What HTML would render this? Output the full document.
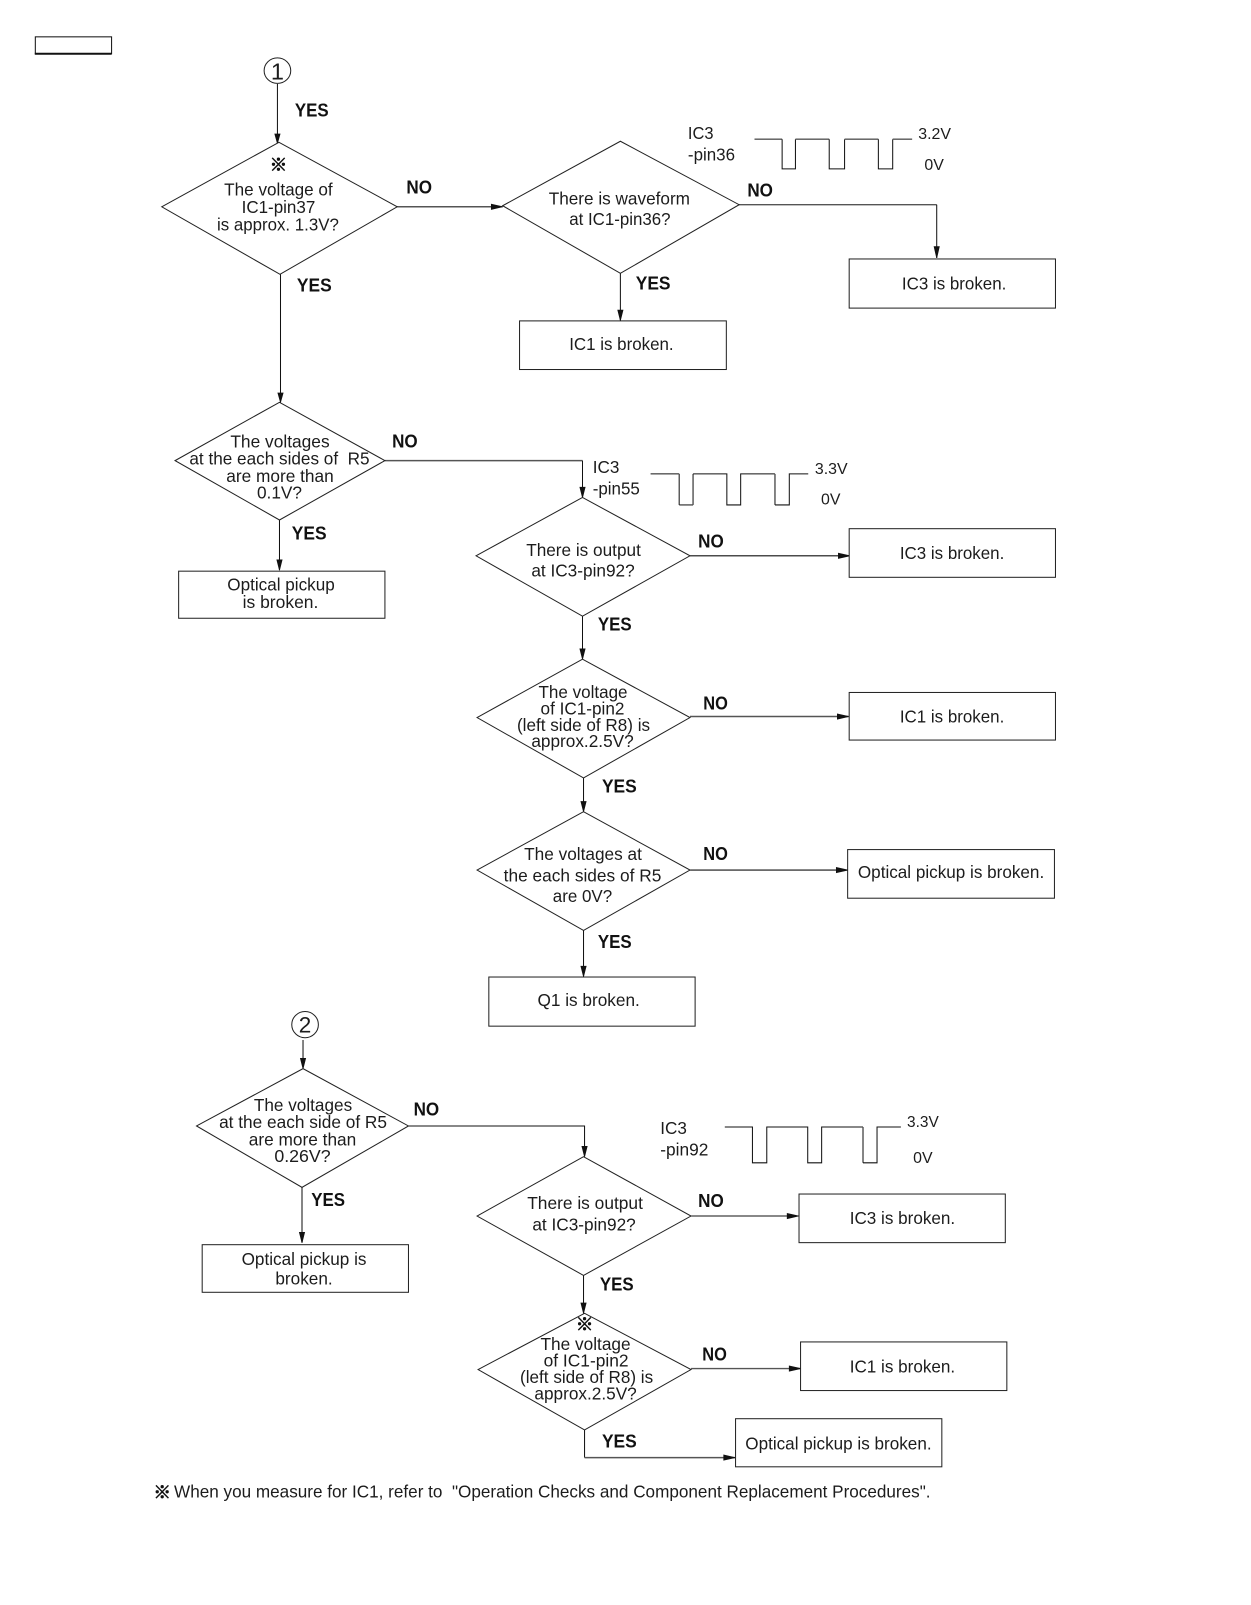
<!DOCTYPE html>
<html><head><meta charset="utf-8"><style>
html,body{margin:0;padding:0;background:#fff}
svg{display:block;position:absolute;left:0;top:0}
text{font-family:"Liberation Sans","Noto Sans CJK JP",sans-serif;font-size:17.4px;fill:#1c1c1c;white-space:pre}
text.b{font-weight:bold;font-size:18px;fill:#111}
text.s{font-size:15.6px}
text.k{font-size:17px;fill:#111;stroke:#111;stroke-width:.7px}
.l{fill:none;stroke:#111;stroke-width:1}
.g{fill:none;stroke:#555;stroke-width:1.4}
.d{fill:#fff;stroke:#222;stroke-width:1}
.r{fill:#fff;stroke:#222;stroke-width:1}
.a{fill:#111;stroke:#111;stroke-width:.8}
</style></head><body>
<svg xmlns="http://www.w3.org/2000/svg" width="1251" height="1605" viewBox="0 0 1222 1568" preserveAspectRatio="none">
<rect x="0" y="0" width="1222" height="1568" fill="#fff"/>
<rect x="34.5" y="36" width="74.5" height="16.5" fill="#fff" stroke="#111" stroke-width="1"/><path d="M34 52.5H109" stroke="#111" stroke-width="2"/>

<!-- connectors -->
<path class="l" d="M271 82V140"/><path class="a" d="M268.500 131L273.500 131L271 140Z"/>
<path class="l" d="M274 268V393"/><path class="a" d="M271.500 384L276.500 384L274 393Z"/>
<path class="g" d="M388 202H491"/><path class="a" d="M480 199.500L480 204.500L491 202Z"/>
<path class="g" d="M722 200H915"/><path class="l" d="M915 200V252"/><path class="a" d="M912.500 241L917.500 241L915 252Z"/>
<path class="l" d="M606 267V313"/><path class="a" d="M603.500 303L608.500 303L606 313Z"/>
<path class="g" d="M376 450H569"/><path class="l" d="M569 450V486"/><path class="a" d="M566.500 476L571.500 476L569 486Z"/>
<path class="l" d="M273 508V557"/><path class="a" d="M270.500 547L275.500 547L273 557Z"/>
<path class="l" d="M674 543H830"/><path class="a" d="M819 540.500L819 545.500L830 543Z"/>
<path class="l" d="M569 602V644"/><path class="a" d="M566.500 634L571.500 634L569 644Z"/>
<path class="g" d="M674 700H829"/><path class="a" d="M818 697.500L818 702.500L829 700Z"/>
<path class="l" d="M570 760V793"/><path class="a" d="M567.500 783L572.500 783L570 793Z"/>
<path class="l" d="M674 850H828"/><path class="a" d="M817 847.500L817 852.500L828 850Z"/>
<path class="l" d="M570 909V954"/><path class="a" d="M567.500 944L572.500 944L570 954Z"/>
<path class="l" d="M296 1016V1044"/><path class="a" d="M293.500 1034L298.500 1034L296 1044Z"/>
<path class="l" d="M399 1100H571V1130"/><path class="a" d="M568.500 1120L573.500 1120L571 1130Z"/>
<path class="g" d="M295 1160V1214"/><path class="a" d="M292.500 1204L297.500 1204L295 1214Z"/>
<path class="l" d="M675 1188H780"/><path class="a" d="M769 1185.500L769 1190.500L780 1188Z"/>
<path class="l" d="M570 1246V1283"/><path class="a" d="M567.500 1273L572.500 1273L570 1283Z"/>
<path class="g" d="M675 1337H782"/><path class="a" d="M771 1334.500L771 1339.500L782 1337Z"/>
<path class="l" d="M571 1397V1424"/><path class="g" d="M571 1424H718"/><path class="a" d="M707 1421.500L707 1426.500L718 1424Z"/>

<!-- waveforms -->
<path class="g" d="M737 136H764"/><path class="l" d="M764 136V165H777V136"/><path class="g" d="M777 136H810"/><path class="l" d="M810 136V165H825V136"/><path class="g" d="M825 136H858"/><path class="l" d="M858 136V165H872V136"/><path class="g" d="M872 136H891"/>
<path class="l" d="M635.500 463H663.500"/><path class="g" d="M663.500 463V493.300"/><path class="l" d="M663.500 493.300H677"/><path class="g" d="M677 493.300V463"/><path class="l" d="M677 463H710V493.300H723.500V463H757"/><path class="g" d="M757 463V493.300"/><path class="l" d="M757 493.300H771V463H789.500"/>
<path class="l" d="M708 1101H735V1136H749V1101H789V1136H802.600V1101H843"/><path class="g" d="M843 1101V1136"/><path class="l" d="M843 1136H856.700V1101H880"/>

<!-- circles -->
<ellipse cx="271" cy="69" rx="13" ry="12.500" fill="#fff" stroke="#222" stroke-width="1"/>
<ellipse cx="298" cy="1001" rx="13" ry="12.800" fill="#fff" stroke="#222" stroke-width="1"/>

<!-- diamonds -->
<polygon class="d" points="158,202 272.500,139 388,202 273.500,268"/>
<polygon class="d" points="491,201 606,138 722,200 606,267"/>
<polygon class="d" points="171,450 273,393 376,450 273,508"/>
<polygon class="d" points="465,543 569,486 674,543 569,602"/>
<polygon class="d" points="466,701 569,644 674,701 570,760"/>
<polygon class="d" points="466,850 570,793 674,850 570,909"/>
<polygon class="d" points="192,1100 296,1044 399,1100 295,1160"/>
<polygon class="d" points="466,1188 570,1130 675,1188 570,1246"/>
<polygon class="d" points="467,1338 571,1283 675,1338 571,1397"/>

<!-- boxes -->
<rect class="r" x="507.500" y="313.500" width="202" height="47.500"/>
<rect class="r" x="829.500" y="253" width="201.500" height="48"/>
<rect class="r" x="174.500" y="558" width="201.500" height="46"/>
<rect class="r" x="829.500" y="516.500" width="201.500" height="47.500"/>
<rect class="r" x="829.500" y="676.500" width="201.500" height="46.500"/>
<rect class="r" x="828" y="830" width="202" height="47.500"/>
<rect class="r" x="477.500" y="954.500" width="201.500" height="48"/>
<rect class="r" x="197.500" y="1216" width="201.500" height="46.500"/>
<rect class="r" x="780.500" y="1166.500" width="201.500" height="47.500"/>
<rect class="r" x="782" y="1311" width="201.500" height="47.500"/>
<rect class="r" x="718.500" y="1386" width="201.500" height="47"/>

<!-- labels -->
<text x="271" y="77.500" text-anchor="middle" style="font-size:23px">1</text>
<text x="298" y="1008.500" text-anchor="middle" style="font-size:22px">2</text>
<text class="b" x="288" y="114" textLength="33" lengthAdjust="spacingAndGlyphs">YES</text>
<text class="k" x="272" y="167" text-anchor="middle">※</text>
<text x="219" y="191" textLength="106" lengthAdjust="spacingAndGlyphs">The voltage of</text>
<text x="236" y="208" textLength="72" lengthAdjust="spacingAndGlyphs">IC1-pin37</text>
<text x="212" y="225" textLength="119" lengthAdjust="spacingAndGlyphs">is approx. 1.3V?</text>
<text class="b" x="397" y="189" textLength="25" lengthAdjust="spacingAndGlyphs">NO</text>
<text class="b" x="290" y="285" textLength="34" lengthAdjust="spacingAndGlyphs">YES</text>
<text x="536" y="200" textLength="138" lengthAdjust="spacingAndGlyphs">There is waveform</text>
<text x="556" y="220" textLength="99" lengthAdjust="spacingAndGlyphs">at IC1-pin36?</text>
<text class="b" x="730" y="192" textLength="25" lengthAdjust="spacingAndGlyphs">NO</text>
<text class="b" x="621" y="283" textLength="34" lengthAdjust="spacingAndGlyphs">YES</text>
<text x="672" y="136" textLength="25" lengthAdjust="spacingAndGlyphs">IC3</text>
<text x="672" y="157" textLength="46" lengthAdjust="spacingAndGlyphs">-pin36</text>
<text class="s" x="897" y="136" textLength="32" lengthAdjust="spacingAndGlyphs">3.2V</text>
<text class="s" x="903" y="166" textLength="19" lengthAdjust="spacingAndGlyphs">0V</text>
<text x="881" y="283" textLength="102" lengthAdjust="spacingAndGlyphs">IC3 is broken.</text>
<text x="556" y="342" textLength="102" lengthAdjust="spacingAndGlyphs">IC1 is broken.</text>

<text x="225" y="437" textLength="97" lengthAdjust="spacingAndGlyphs">The voltages</text>
<text x="185" y="454" textLength="176" lengthAdjust="spacingAndGlyphs">at the each sides of&#160;&#160;R5</text>
<text x="221" y="471" textLength="105" lengthAdjust="spacingAndGlyphs">are more than</text>
<text x="251" y="487" textLength="44" lengthAdjust="spacingAndGlyphs">0.1V?</text>
<text class="b" x="383" y="437" textLength="25" lengthAdjust="spacingAndGlyphs">NO</text>
<text class="b" x="285" y="527" textLength="34" lengthAdjust="spacingAndGlyphs">YES</text>
<text x="222" y="577" textLength="105" lengthAdjust="spacingAndGlyphs">Optical pickup</text>
<text x="237" y="594" textLength="74" lengthAdjust="spacingAndGlyphs">is broken.</text>
<text x="579" y="462" textLength="26" lengthAdjust="spacingAndGlyphs">IC3</text>
<text x="579" y="483" textLength="46" lengthAdjust="spacingAndGlyphs">-pin55</text>
<text class="s" x="796" y="463" textLength="32" lengthAdjust="spacingAndGlyphs">3.3V</text>
<text class="s" x="802" y="493" textLength="19" lengthAdjust="spacingAndGlyphs">0V</text>

<text x="514" y="543" textLength="112" lengthAdjust="spacingAndGlyphs">There is output</text>
<text x="519" y="563" textLength="101" lengthAdjust="spacingAndGlyphs">at IC3-pin92?</text>
<text class="b" x="682" y="535" textLength="25" lengthAdjust="spacingAndGlyphs">NO</text>
<text x="879" y="546" textLength="102" lengthAdjust="spacingAndGlyphs">IC3 is broken.</text>
<text class="b" x="584" y="616" textLength="33" lengthAdjust="spacingAndGlyphs">YES</text>

<text x="526" y="682" textLength="87" lengthAdjust="spacingAndGlyphs">The voltage</text>
<text x="528" y="698" textLength="82" lengthAdjust="spacingAndGlyphs">of IC1-pin2</text>
<text x="505" y="714" textLength="130" lengthAdjust="spacingAndGlyphs">(left side of R8) is</text>
<text x="519" y="730" textLength="100" lengthAdjust="spacingAndGlyphs">approx.2.5V?</text>
<text class="b" x="687" y="693" textLength="24" lengthAdjust="spacingAndGlyphs">NO</text>
<text x="879" y="706" textLength="102" lengthAdjust="spacingAndGlyphs">IC1 is broken.</text>
<text class="b" x="588" y="774" textLength="34" lengthAdjust="spacingAndGlyphs">YES</text>

<text x="512" y="840" textLength="115" lengthAdjust="spacingAndGlyphs">The voltages at</text>
<text x="492" y="861" textLength="154" lengthAdjust="spacingAndGlyphs">the each sides of R5</text>
<text x="540" y="881" textLength="58" lengthAdjust="spacingAndGlyphs">are 0V?</text>
<text class="b" x="687" y="840" textLength="24" lengthAdjust="spacingAndGlyphs">NO</text>
<text x="838" y="858" textLength="182" lengthAdjust="spacingAndGlyphs">Optical pickup is broken.</text>
<text class="b" x="584" y="926" textLength="33" lengthAdjust="spacingAndGlyphs">YES</text>
<text x="525" y="983" textLength="100" lengthAdjust="spacingAndGlyphs">Q1 is broken.</text>

<text x="248" y="1085.500" textLength="96" lengthAdjust="spacingAndGlyphs">The voltages</text>
<text x="214" y="1102" textLength="164" lengthAdjust="spacingAndGlyphs">at the each side of R5</text>
<text x="243" y="1119" textLength="105" lengthAdjust="spacingAndGlyphs">are more than</text>
<text x="268" y="1135" textLength="55" lengthAdjust="spacingAndGlyphs">0.26V?</text>
<text class="b" x="404" y="1090" textLength="25" lengthAdjust="spacingAndGlyphs">NO</text>
<text class="b" x="304" y="1178" textLength="33" lengthAdjust="spacingAndGlyphs">YES</text>
<text x="236" y="1236" textLength="122" lengthAdjust="spacingAndGlyphs">Optical pickup is</text>
<text x="269" y="1255" textLength="56" lengthAdjust="spacingAndGlyphs">broken.</text>
<text x="645" y="1108" textLength="26" lengthAdjust="spacingAndGlyphs">IC3</text>
<text x="645" y="1129" textLength="47" lengthAdjust="spacingAndGlyphs">-pin92</text>
<text class="s" x="886" y="1101" textLength="31" lengthAdjust="spacingAndGlyphs">3.3V</text>
<text class="s" x="892" y="1136" textLength="19" lengthAdjust="spacingAndGlyphs">0V</text>

<text x="515" y="1181" textLength="113" lengthAdjust="spacingAndGlyphs">There is output</text>
<text x="520" y="1202" textLength="101" lengthAdjust="spacingAndGlyphs">at IC3-pin92?</text>
<text class="b" x="682" y="1179" textLength="25" lengthAdjust="spacingAndGlyphs">NO</text>
<text x="830" y="1196" textLength="103" lengthAdjust="spacingAndGlyphs">IC3 is broken.</text>
<text class="b" x="586" y="1261" textLength="33" lengthAdjust="spacingAndGlyphs">YES</text>

<text class="k" x="571" y="1300" text-anchor="middle">※</text>
<text x="528" y="1319" textLength="88" lengthAdjust="spacingAndGlyphs">The voltage</text>
<text x="531" y="1335" textLength="83" lengthAdjust="spacingAndGlyphs">of IC1-pin2</text>
<text x="508" y="1351" textLength="130" lengthAdjust="spacingAndGlyphs">(left side of R8) is</text>
<text x="522" y="1367" textLength="100" lengthAdjust="spacingAndGlyphs">approx.2.5V?</text>
<text class="b" x="686" y="1329" textLength="24" lengthAdjust="spacingAndGlyphs">NO</text>
<text x="830" y="1341" textLength="103" lengthAdjust="spacingAndGlyphs">IC1 is broken.</text>
<text class="b" x="588" y="1414" textLength="34" lengthAdjust="spacingAndGlyphs">YES</text>
<text x="728" y="1416" textLength="182" lengthAdjust="spacingAndGlyphs">Optical pickup is broken.</text>

<text class="k" x="150" y="1464">※</text>
<text x="170" y="1463" textLength="739" lengthAdjust="spacingAndGlyphs">When you measure for IC1, refer to&#160;&#160;"Operation Checks and Component Replacement Procedures".</text>
</svg>
</body></html>
